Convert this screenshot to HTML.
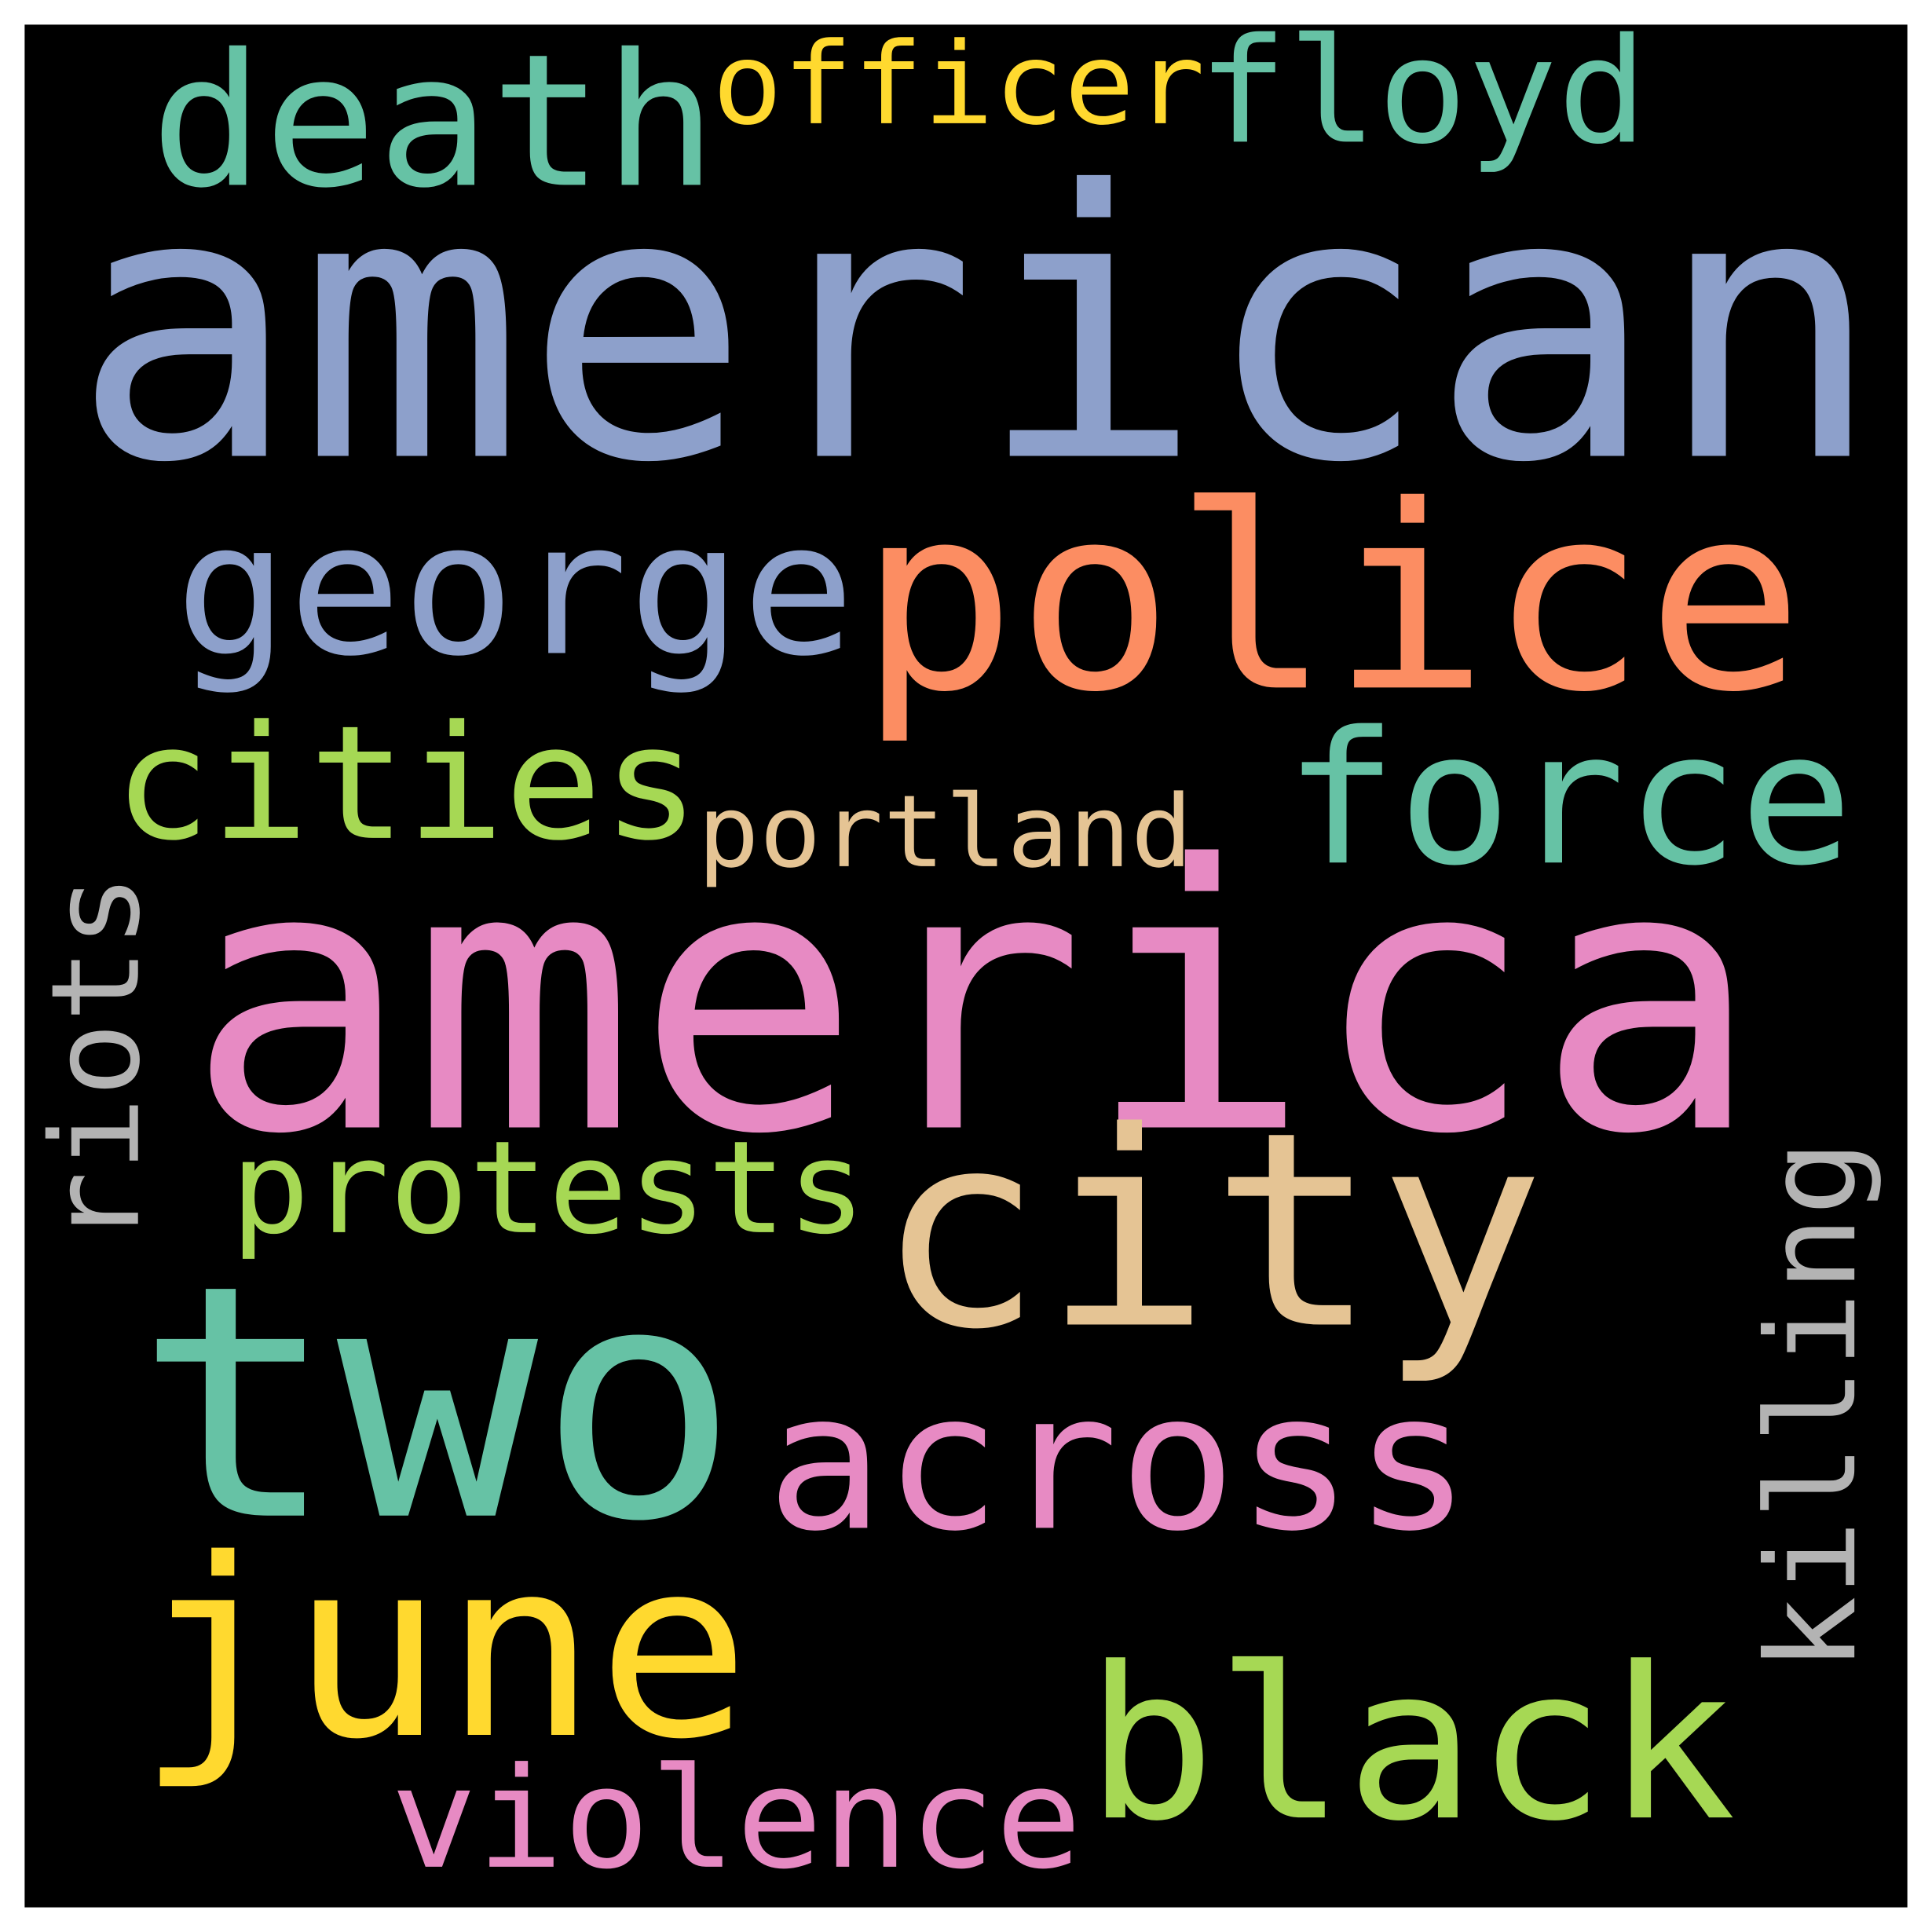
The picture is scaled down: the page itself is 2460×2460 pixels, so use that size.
<!DOCTYPE html>
<html><head><meta charset="utf-8"><style>
html,body{margin:0;padding:0;background:#fff;}
svg{display:block;}
text{font-family:"DejaVu Sans Mono","Liberation Mono",monospace;}
</style></head><body>
<svg width="2460" height="2460" viewBox="0 0 1568 1568" xmlns="http://www.w3.org/2000/svg">
<rect x="20" y="20" width="1528" height="1528" fill="#000"/>
<g>
<text x="58" y="370" font-size="300" fill="#8da0cb" textLength="1470" lengthAdjust="spacingAndGlyphs">american</text>
<text x="151" y="915" font-size="297" fill="#e78ac3" textLength="1278" lengthAdjust="spacingAndGlyphs">america</text>
<text x="697" y="558" font-size="207" fill="#fc8d62" textLength="767" lengthAdjust="spacingAndGlyphs">police</text>
<text x="142" y="530" font-size="149" fill="#8da0cb" textLength="552" lengthAdjust="spacingAndGlyphs">george</text>
<text x="122" y="150" font-size="149" fill="#66c2a5" textLength="460" lengthAdjust="spacingAndGlyphs">death</text>
<text x="578" y="100" font-size="92" fill="#ffd92f" textLength="400" lengthAdjust="spacingAndGlyphs">officer</text>
<text x="972" y="115" font-size="118" fill="#66c2a5" textLength="365" lengthAdjust="spacingAndGlyphs">floyd</text>
<text x="92" y="680" font-size="128" fill="#a6d854" textLength="476" lengthAdjust="spacingAndGlyphs">cities</text>
<text x="1042" y="700" font-size="149" fill="#66c2a5" textLength="462" lengthAdjust="spacingAndGlyphs">force</text>
<text x="566" y="703" font-size="81" fill="#e5c494" textLength="402" lengthAdjust="spacingAndGlyphs">portland</text>
<text x="187" y="1000" font-size="104" fill="#a6d854" textLength="516" lengthAdjust="spacingAndGlyphs">protests</text>
<text x="711" y="1075" font-size="219" fill="#e5c494" textLength="543" lengthAdjust="spacingAndGlyphs">city</text>
<text x="110" y="1230" font-size="262" fill="#66c2a5" textLength="490" lengthAdjust="spacingAndGlyphs">two</text>
<text x="622" y="1240" font-size="154" fill="#e78ac3" textLength="572" lengthAdjust="spacingAndGlyphs">across</text>
<text x="111" y="1408" font-size="200" fill="#ffd92f" textLength="498" lengthAdjust="spacingAndGlyphs">june</text>
<text x="881" y="1475" font-size="171" fill="#a6d854" textLength="528" lengthAdjust="spacingAndGlyphs">black</text>
<text x="317" y="1515" font-size="113" fill="#e78ac3" textLength="561" lengthAdjust="spacingAndGlyphs">violence</text>
<text x="0" y="0" font-size="99" fill="#b3b3b3" textLength="302" lengthAdjust="spacingAndGlyphs" transform="translate(112,1011) rotate(-90)">riots</text>
<text x="0" y="0" font-size="100" fill="#b3b3b3" textLength="432" lengthAdjust="spacingAndGlyphs" transform="translate(1505,1357) rotate(-90)">killing</text>
</g>
</svg>
</body></html>
